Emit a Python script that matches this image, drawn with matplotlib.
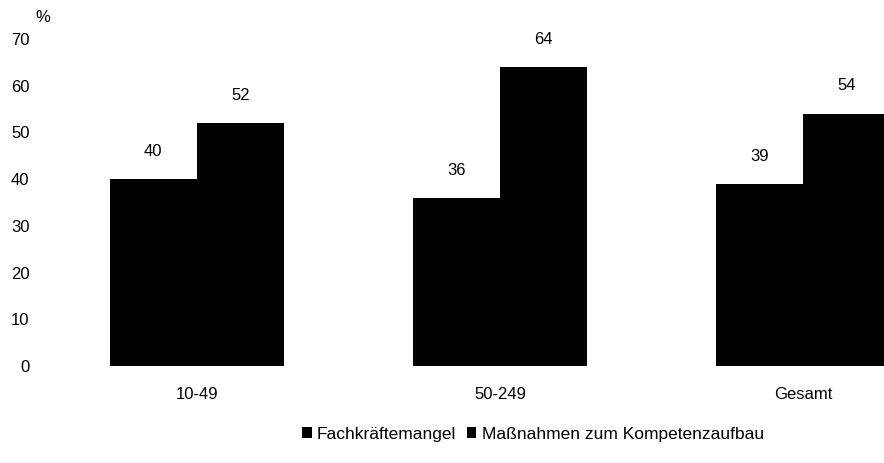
import numpy as np
import matplotlib.pyplot as plt

plt.rcParams['font.family'] = ['Liberation Sans', 'DejaVu Sans']

categories = ['10-49', '50-249', 'Gesamt']
fachkraefte = [40, 36, 39]
massnahmen = [52, 64, 54]
series_names = ['Fachkräftemangel', 'Maßnahmen zum Kompetenzaufbau']

fig = plt.figure(figsize=(8.84, 4.63), dpi=100)
ax = fig.add_axes([60 / 884, 97 / 463, 824 / 884, 327 / 463])

x = np.arange(len(categories))
w = 0.288
b1 = ax.bar(x - w / 2, fachkraefte, w, color='black', label=series_names[0])
b2 = ax.bar(x + w / 2, massnahmen, w, color='black', label=series_names[1])

for bars in (b1, b2):
    for rect in bars:
        ax.annotate(f'{rect.get_height():.0f}',
                    (rect.get_x() + rect.get_width() / 2, rect.get_height()),
                    xytext=(0, 20), textcoords='offset points',
                    ha='center', va='center', fontsize=12)

ax.set_xlim((60 - 197) / 303, (884 - 197) / 303)
ax.set_ylim(0, 70)
ax.set_yticks(range(0, 71, 10))
ax.set_xticks(x)
ax.set_xticklabels(categories)
ax.tick_params(axis='y', length=0, pad=22, labelsize=12)
ax.tick_params(axis='x', length=0, pad=15, labelsize=12)
for s in ax.spines.values():
    s.set_visible(False)

fig.text(35 / 884, 1 - 18 / 463, '%', fontsize=12, ha='left', va='center')

fig.legend(loc='center', bbox_to_anchor=(533 / 884, 1 - 434 / 463),
           ncol=2, frameon=False, fontsize=12.5, handlelength=0.55,
           handleheight=0.55, handletextpad=0.3, columnspacing=0.6)

fig.savefig('out.png', dpi=100)
